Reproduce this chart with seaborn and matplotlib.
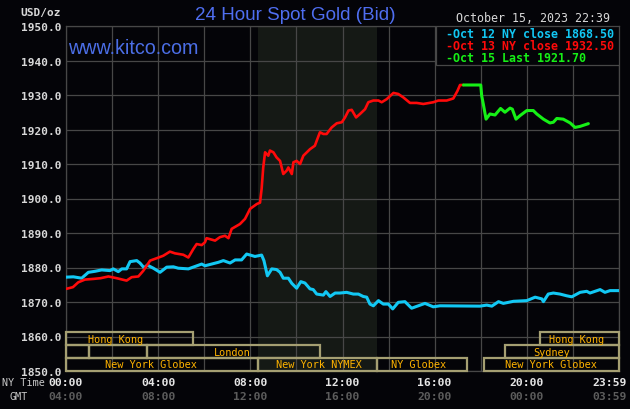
import numpy as np
import pandas as pd
import matplotlib
matplotlib.use("Agg")
import matplotlib.pyplot as plt
from matplotlib.patches import Rectangle
import seaborn as sns

# ---- data (hours since 00:00 NY time, USD/oz) ----
oct12_hours = [0.0, 0.32, 0.68, 0.97, 1.26, 1.55, 1.91, 2.05, 2.27, 2.42, 2.63, 2.78, 3.07, 3.21, 3.39,
               3.53, 3.79, 4.08, 4.37, 4.66, 4.87, 5.31, 5.6, 5.89, 6.03, 6.32, 6.61, 6.83, 7.12, 7.34,
               7.62, 7.84, 8.2, 8.49, 8.59, 8.74, 8.93, 9.14, 9.29, 9.43, 9.65, 9.8, 10.01, 10.19, 10.37,
               10.59, 10.73, 10.88, 11.17, 11.28, 11.46, 11.68, 11.89, 12.18, 12.47, 12.69, 12.9, 13.05,
               13.19, 13.34, 13.56, 13.77, 13.99, 14.18, 14.42, 14.71, 15.0, 15.29, 15.58, 15.94, 16.23,
               17.97, 18.26, 18.48, 18.77, 18.98, 19.42, 20.0, 20.36, 20.65, 20.72, 20.93, 21.15, 21.44,
               21.73, 21.95, 22.31, 22.6, 22.74, 23.18, 23.39, 23.61, 24.0]
oct12_price = [1877.2, 1877.3, 1876.9, 1878.6, 1878.9, 1879.3, 1879.1, 1879.6, 1878.8, 1879.6, 1879.6,
               1881.7, 1882.0, 1881.3, 1879.9, 1880.7, 1879.8, 1878.6, 1880.1, 1880.2, 1879.8, 1879.6,
               1880.3, 1881.0, 1880.5, 1881.0, 1881.5, 1882.0, 1881.3, 1882.2, 1882.2, 1883.9, 1883.2,
               1883.6, 1882.0, 1877.6, 1879.6, 1879.4, 1878.6, 1876.9, 1876.9, 1875.4, 1874.0, 1875.9,
               1875.5, 1873.8, 1873.6, 1872.3, 1872.0, 1873.0, 1871.6, 1872.6, 1872.6, 1872.8, 1872.3,
               1872.3, 1871.6, 1871.4, 1869.4, 1868.9, 1870.4, 1869.4, 1869.4, 1868.0, 1869.9, 1870.1,
               1868.2, 1868.9, 1869.6, 1868.6, 1868.9, 1868.8, 1869.1, 1868.8, 1870.1, 1869.6, 1870.2,
               1870.4, 1871.4, 1870.9, 1870.1, 1872.3, 1872.6, 1872.3, 1871.8, 1871.5, 1872.8, 1873.1,
               1872.6, 1873.6, 1872.8, 1873.3, 1873.3]

oct13_hours = [0.0, 0.3, 0.53, 0.82, 1.2, 1.5, 1.84, 2.2, 2.63, 2.85, 3.14, 3.36, 3.65, 3.94, 4.22,
               4.51, 4.73, 5.09, 5.31, 5.53, 5.67, 5.89, 6.03, 6.1, 6.47, 6.68, 6.9, 7.05, 7.19, 7.55,
               7.77, 7.99, 8.28, 8.42, 8.49, 8.56, 8.64, 8.78, 8.85, 9.0, 9.14, 9.29, 9.43, 9.58, 9.65,
               9.8, 9.87, 10.01, 10.16, 10.3, 10.59, 10.8, 11.02, 11.17, 11.31, 11.53, 11.75, 11.97,
               12.11, 12.26, 12.4, 12.59, 12.76, 12.98, 13.12, 13.34, 13.56, 13.7, 13.92, 14.21, 14.42,
               14.64, 14.93, 15.22, 15.51, 15.94, 16.16, 16.52, 16.81, 16.99, 17.1, 17.25]
oct13_price = [1873.8, 1874.3, 1875.7, 1876.5, 1876.7, 1876.9, 1877.4, 1876.9, 1876.2, 1877.2, 1877.4,
               1879.1, 1882.0, 1882.7, 1883.4, 1884.6, 1884.1, 1883.7, 1882.9, 1885.4, 1886.8, 1886.5,
               1887.3, 1888.5, 1887.8, 1888.8, 1889.2, 1888.5, 1891.2, 1892.6, 1894.1, 1897.0, 1898.4,
               1898.8, 1902.8, 1909.0, 1913.4, 1912.4, 1913.9, 1913.4, 1911.9, 1910.9, 1907.1, 1908.1,
               1909.0, 1907.1, 1910.5, 1910.9, 1910.0, 1912.4, 1914.3, 1915.3, 1919.2, 1918.7, 1918.7,
               1920.6, 1921.8, 1922.1, 1923.5, 1925.5, 1925.7, 1923.5, 1924.5, 1925.9, 1927.9, 1928.4,
               1928.4, 1927.9, 1928.8, 1930.6, 1930.3, 1929.3, 1927.7, 1927.7, 1927.4, 1927.9, 1928.4,
               1928.4, 1929.0, 1931.2, 1932.9, 1932.9]

oct15_hours = [17.25, 18.0, 18.04, 18.11, 18.23, 18.4, 18.62, 18.86, 19.05, 19.27, 19.37, 19.53, 19.7,
               20.0, 20.28, 20.43, 20.72, 21.0, 21.15, 21.3, 21.58, 21.88, 22.09, 22.31, 22.67]
oct15_price = [1932.9, 1932.9, 1929.8, 1927.4, 1923.0, 1924.5, 1924.2, 1926.1, 1925.0, 1926.2, 1925.9,
               1923.0, 1924.0, 1925.5, 1925.5, 1924.5, 1923.0, 1921.9, 1922.1, 1923.2, 1923.0, 1921.9,
               1920.6, 1920.9, 1921.7]

legend_lines = ["-Oct 12 NY close 1868.50", "-Oct 13 NY close 1932.50", "-Oct 15 Last 1921.70"]
ny_labels = ["00:00", "04:00", "08:00", "12:00", "16:00", "20:00", "23:59"]
gmt_labels = ["04:00", "08:00", "12:00", "16:00", "20:00", "00:00", "03:59"]
label_hours = [0, 4, 8, 12, 16, 20, 23.6]

# trading sessions: name, start, end, row (0 = top), text x
session_names = ["Hong Kong", "", "", "London", "New York Globex", "New York NYMEX", "NY Globex",
                 "Hong Kong", "Sydney", "New York Globex"]
session_start = [0.0, 0.0, 1.0, 3.5, 0.0, 8.33, 13.5, 20.55, 19.05, 18.12]
session_end = [5.5, 1.0, 3.5, 11.02, 8.33, 13.5, 17.4, 24.0, 24.0, 24.0]
session_row = [0, 1, 1, 1, 2, 2, 2, 0, 1, 2]
session_text_x = [2.15, 0, 0, 7.2, 3.69, 10.97, 15.28, 22.16, 21.08, 21.05]

BG = "#040408"
GRID = "#474747"
BLUE = "#12c8f4"
RED = "#ff0a0a"
GREEN = "#16f016"
MONO = "DejaVu Sans Mono"

sns.set_style("dark")
plt.rcParams["font.family"] = ["DejaVu Sans"]

fig = plt.figure(figsize=(6.3, 4.1), dpi=100, facecolor=BG)
ax = fig.add_axes([66 / 630, 38 / 410, 553 / 630, 345 / 410])
ax.set_facecolor(BG)

# NYMEX floor hours shading
ax.axvspan(8 + 20 / 60, 13.5, color="#151915", zorder=0, lw=0)

df12 = pd.DataFrame({"hour": oct12_hours, "price": oct12_price})
df13 = pd.DataFrame({"hour": oct13_hours, "price": oct13_price})
df15 = pd.DataFrame({"hour": oct15_hours, "price": oct15_price})
sns.lineplot(data=df12, x="hour", y="price", color=BLUE, lw=2.2, ax=ax,
             estimator=None, sort=False, zorder=3)
sns.lineplot(data=df13, x="hour", y="price", color=RED, lw=1.9, ax=ax,
             estimator=None, sort=False, zorder=4)
sns.lineplot(data=df15, x="hour", y="price", color=GREEN, lw=2.2, ax=ax,
             estimator=None, sort=False, zorder=4)

ax.set_xlim(0, 24)
ax.set_ylim(1850, 1950)
ax.set_xticks(np.arange(0, 25, 2))
ax.set_xticklabels([])
ax.set_yticks(np.arange(1850, 1951, 10))
ax.set_yticklabels([f"{v:.1f}" for v in np.arange(1850, 1951, 10)],
                   color="#d8d8d8", fontfamily=MONO, fontweight="bold", fontsize=8)
ax.tick_params(length=0, pad=3.6)
ax.grid(True, color=GRID, lw=0.9)
for s in ax.spines.values():
    s.set_color(GRID)
    s.set_linewidth(0.9)
ax.set_xlabel("")
ax.set_ylabel("")

# session boxes
row_edges = [(1857.5, 1861.2), (1853.8, 1857.5), (1850.0, 1853.8)]
for name, x0, x1, r, tx in zip(session_names, session_start, session_end, session_row, session_text_x):
    y0, y1 = row_edges[r]
    ax.add_patch(Rectangle((x0, y0), x1 - x0, y1 - y0, fill=False, edgecolor="#a59f72",
                           lw=1.6, zorder=5, clip_on=False))
    if name:
        ax.text(tx, (y0 + y1) / 2, name, ha="center", va="center", color="#ffb300",
                fontfamily=MONO, fontsize=7.4, zorder=6)

# legend box at top right
ax.add_patch(Rectangle((16.06, 1938.7), 24 - 16.06, 1950 - 1938.7, facecolor=BG,
                       edgecolor=GRID, lw=0.9, zorder=6))
for txt, col, ypix in zip(legend_lines, [BLUE, RED, GREEN], [34, 46, 58]):
    fig.text(446 / 630, 1 - ypix / 410, txt, color=col, fontfamily=MONO, fontweight="bold",
             fontsize=8.4, ha="left", va="center", zorder=7)

# titles and annotations
fig.text(295 / 630, 1 - 15 / 410, "24 Hour Spot Gold (Bid)", color="#4f6ef0",
         fontfamily="Liberation Sans", fontsize=13.6, ha="center", va="center")
fig.text(610 / 630, 1 - 19 / 410, "October 15, 2023 22:39", color="#d8d8d8",
         fontfamily=MONO, fontsize=8.4, ha="right", va="center")
fig.text(68 / 630, 1 - 48 / 410, "www.kitco.com", color="#4b6ee6",
         fontfamily="Liberation Sans", fontsize=14.2, ha="left", va="center")
fig.text(61 / 630, 1 - 13 / 410, "USD/oz", color="#d8d8d8", fontfamily=MONO,
         fontweight="bold", fontsize=8, ha="right", va="center")
fig.text(2 / 630, 1 - 383 / 410, "NY Time", color="#c8c8c8", fontfamily=MONO,
         fontsize=7.3, ha="left", va="center")
fig.text(10 / 630, 1 - 397 / 410, "GMT", color="#c8c8c8", fontfamily=MONO,
         fontsize=7.3, ha="left", va="center")

trans = ax.get_xaxis_transform()
for h, ny, gmt in zip(label_hours, ny_labels, gmt_labels):
    ax.text(h, -11 / 345, ny, transform=trans, ha="center", va="center", color="#e6e6e6",
            fontfamily=MONO, fontweight="bold", fontsize=8.2, clip_on=False)
    ax.text(h, -25 / 345, gmt, transform=trans, ha="center", va="center", color="#5c5c5c",
            fontfamily=MONO, fontweight="bold", fontsize=8.2, clip_on=False)

fig.savefig("out.png", dpi=100, facecolor=BG)
